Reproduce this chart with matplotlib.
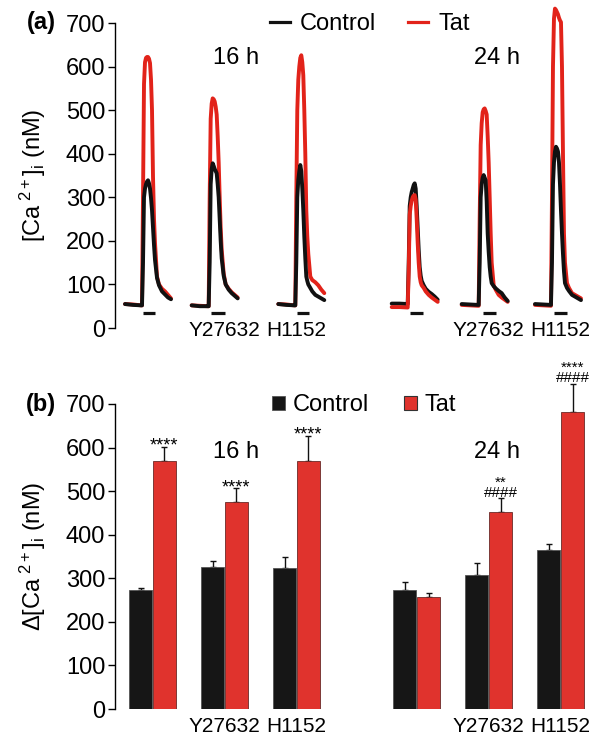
import matplotlib
matplotlib.use("Agg")
import matplotlib.pyplot as plt
from matplotlib.lines import Line2D
from matplotlib.patches import Patch
import numpy as np

plt.rcParams['font.family'] = ['Liberation Sans', 'DejaVu Sans']
plt.rcParams['mathtext.fontset'] = 'custom'
plt.rcParams['mathtext.rm'] = 'Liberation Sans'
plt.rcParams['mathtext.it'] = 'Liberation Sans:italic'
plt.rcParams['mathtext.bf'] = 'Liberation Sans:bold'

# ---------------- data ----------------
groups = ['', 'Y27632', 'H1152', '', 'Y27632', 'H1152']
times = ['16 h', '24 h']

# panel (a): traces, sampled at common time offsets (a.u.)
trace_t = [0, 8, 16, 17, 18, 19, 20, 21, 22, 23, 24, 25, 26, 27, 28, 29, 30, 32, 34, 37, 40, 43, 46]
ctrl_16h = [55, 53, 52, 52, 150, 300, 320, 330, 336, 339, 332, 320, 298, 270, 230, 190, 156, 115, 98, 84, 77, 70, 66]
tat_16h = [55, 54, 52, 52, 300, 560, 610, 620, 622, 622, 618, 608, 570, 500, 347, 250, 195, 118, 100, 90, 84, 76, 68]
ctrl_16h_y = [52, 50, 50, 50, 150, 330, 365, 378, 372, 365, 360, 355, 330, 300, 250, 200, 160, 120, 100, 88, 80, 74, 68]
tat_16h_y = [52, 51, 50, 50, 300, 480, 515, 527, 525, 520, 508, 490, 440, 380, 300, 230, 180, 125, 100, 90, 82, 76, 70]
ctrl_16h_h = [55, 53, 52, 52, 150, 300, 340, 360, 374, 360, 320, 270, 210, 160, 118, 108, 100, 92, 84, 76, 72, 68, 64]
tat_16h_h = [55, 54, 52, 52, 300, 500, 570, 600, 620, 626, 610, 580, 500, 400, 270, 210, 170, 118, 110, 105, 98, 88, 80]
ctrl_24h = [56, 56, 55, 150, 280, 300, 312, 320, 328, 332, 320, 280, 230, 180, 140, 120, 108, 98, 90, 83, 78, 72, 65]
tat_24h = [48, 48, 47, 130, 260, 280, 292, 300, 304, 305, 295, 250, 195, 150, 118, 105, 98, 92, 84, 76, 70, 65, 60]
ctrl_24h_y = [55, 54, 53, 53, 150, 300, 330, 345, 351, 345, 339, 290, 217, 175, 140, 118, 103, 96, 91, 85, 80, 70, 62]
tat_24h_y = [53, 52, 51, 51, 250, 420, 470, 495, 502, 504, 498, 490, 440, 380, 300, 217, 150, 98, 88, 76, 70, 65, 60]
ctrl_24h_h = [55, 54, 53, 150, 330, 380, 405, 416, 412, 405, 380, 330, 270, 217, 170, 130, 103, 92, 85, 76, 72, 68, 64]
tat_24h_h = [53, 52, 51, 300, 600, 710, 733, 730, 725, 720, 712, 706, 702, 600, 400, 217, 150, 103, 92, 80, 76, 72, 68]
ctrl_traces = [ctrl_16h, ctrl_16h_y, ctrl_16h_h, ctrl_24h, ctrl_24h_y, ctrl_24h_h]
tat_traces = [tat_16h, tat_16h_y, tat_16h_h, tat_24h, tat_24h_y, tat_24h_h]
stim_on = [18, 19, 18.5, 18.3, 21.3, 19]
stim_off = [30, 33, 31, 31.3, 34, 31.7]

# panel (b): bar means and SEM
ctrl_mean = [273, 326, 324, 273, 308, 364]
ctrl_sem = [5, 13, 24, 19, 28, 15]
tat_mean = [570, 475, 570, 256, 452, 681]
tat_sem = [32, 32, 57, 11, 32, 66]
sig_star = ['****', '****', '****', '', '**', '****']
sig_hash = ['', '', '', '', '####', '####']

# ---------------- layout ----------------
pos = np.array([0, 1, 2, 3.67, 4.67, 5.67])
trace_start = [-0.381, 0.545, 1.748, 3.323, 4.295, 5.313]
t_scale = 1 / 72.0
bw = 0.32
xlim = (-0.52, -0.52 + 475 / 72.0)
RED = '#e2231a'
BAR_RED = '#e0332d'
BAR_BLK = '#161616'

fig = plt.figure(figsize=(6.0, 7.43), dpi=100)
axa = fig.add_axes([115 / 600, 1 - 328 / 743, 475 / 600, 305 / 743])
axb = fig.add_axes([115 / 600, 1 - 709 / 743, 475 / 600, 305 / 743])

for ax in (axa, axb):
    ax.set_xlim(*xlim)
    ax.set_ylim(0, 700)
    ax.set_yticks(range(0, 701, 100))
    for s in ('top', 'right', 'bottom'):
        ax.spines[s].set_visible(False)
    ax.spines['left'].set_linewidth(1.0)
    ax.tick_params(axis='y', direction='out', length=5, width=1.0, pad=2, labelsize=17)
    ax.set_xticks([])
    ax.patch.set_visible(False)

# ---- panel (a) ----
tt = np.array(trace_t, dtype=float)
for i in range(6):
    x = trace_start[i] + tt * t_scale
    zc, zt = (3, 2) if i != 3 else (2, 3)
    axa.plot(x, tat_traces[i], color=RED, lw=2.8, zorder=zt, clip_on=False,
             solid_joinstyle='round', solid_capstyle='round')
    axa.plot(x, ctrl_traces[i], color='#111111', lw=2.8, zorder=zc, clip_on=False,
             solid_joinstyle='round', solid_capstyle='round')
    axa.plot([trace_start[i] + stim_on[i] * t_scale, trace_start[i] + stim_off[i] * t_scale],
             [34, 34], color='#111111', lw=2.3, solid_capstyle='butt', clip_on=False)
    axa.text(pos[i], -5, groups[i], ha='center', va='center', fontsize=15, clip_on=False)

axa.text(pos[1] + 0.16, 620, times[0], ha='center', va='center', fontsize=17)
axa.text(pos[4] + 0.12, 620, times[1], ha='center', va='center', fontsize=17)

axa.legend(handles=[Line2D([], [], color='#111111', lw=2.3),
                    Line2D([], [], color=RED, lw=2.3)],
           labels=['Control', 'Tat'], ncol=2, frameon=False, fontsize=17,
           handlelength=0.85, handletextpad=0.42, columnspacing=1.35,
           borderpad=0, borderaxespad=0, loc='center left',
           bbox_to_anchor=(270 / 600, 1 - 24 / 743), bbox_transform=fig.transFigure)

axa.text(-0.155, 1.0, '(a)', transform=axa.transAxes, fontsize=17, fontweight='bold',
         ha='center', va='center')
axa.text(-0.172, 0.5, r'[Ca$^{\ \mathrm{2+}}$]$_\mathrm{i}$ (nM)', transform=axa.transAxes,
         rotation=90, ha='center', va='center', fontsize=17)

# ---- panel (b) ----
xc = pos - bw / 2 - 0.005
xt = pos + bw / 2 + 0.005
axb.bar(xc, ctrl_mean, width=bw, color=BAR_BLK, edgecolor='#555555', linewidth=0.6, zorder=2)
axb.bar(xt, tat_mean, width=bw, color=BAR_RED, edgecolor='#6a2a28', linewidth=0.6, zorder=2)
for xx, m, s in ((xc, ctrl_mean, ctrl_sem), (xt, tat_mean, tat_sem)):
    eb = axb.errorbar(xx, m, yerr=[np.zeros(6), s], fmt='none', ecolor='#111111',
                      elinewidth=1.0, capsize=2, capthick=1.0, zorder=1)
    for art in eb.lines[1] + eb.lines[2]:
        art.set_clip_on(False)

for i in range(6):
    top = tat_mean[i] + tat_sem[i]
    if sig_hash[i]:
        axb.text(xt[i], top - 4, sig_star[i] + '\n' + sig_hash[i], ha='center', va='bottom',
                 fontsize=11, linespacing=0.68, clip_on=False)
    elif sig_star[i]:
        axb.text(xt[i], top - 9, sig_star[i], ha='center', va='baseline', fontsize=13,
                 clip_on=False)
    axb.text(pos[i], -41, groups[i], ha='center', va='center', fontsize=15, clip_on=False)

axb.text(pos[1] + 0.16, 590, times[0], ha='center', va='center', fontsize=17)
axb.text(pos[4] + 0.12, 590, times[1], ha='center', va='center', fontsize=17)

axb.legend(handles=[Patch(facecolor=BAR_BLK, edgecolor='#555555', lw=0.6),
                    Patch(facecolor=BAR_RED, edgecolor='#333333', lw=0.8)],
           labels=['Control', 'Tat'], ncol=2, frameon=False, fontsize=17,
           handlelength=0.55, handleheight=0.55, handletextpad=0.35,
           columnspacing=1.45, borderpad=0, borderaxespad=0, loc='center left',
           bbox_to_anchor=(272 / 600, 1 - 405 / 743), bbox_transform=fig.transFigure)

axb.text(-0.155, 1.0, '(b)', transform=axb.transAxes, fontsize=17, fontweight='bold',
         ha='center', va='center')
axb.text(-0.172, 0.5, r'$\Delta$[Ca$^{\ \mathrm{2+}}$]$_\mathrm{i}$ (nM)', transform=axb.transAxes,
         rotation=90, ha='center', va='center', fontsize=17)

fig.savefig('out.png', dpi=100)
